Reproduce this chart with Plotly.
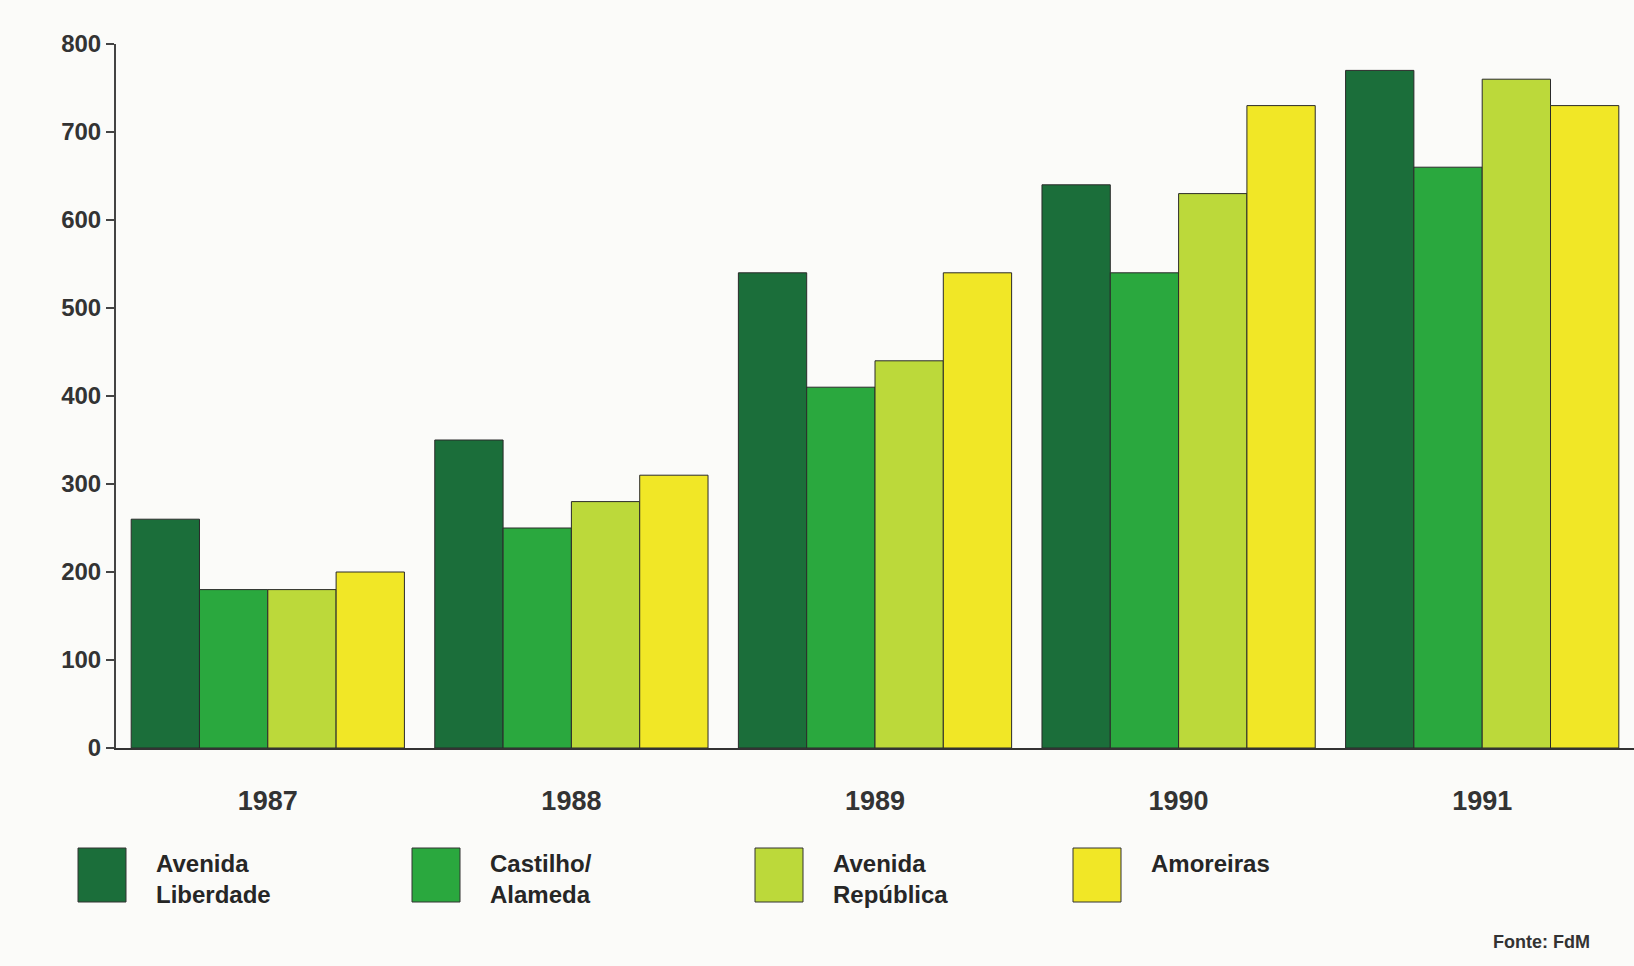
import plotly.graph_objects as go

years = ["1987", "1988", "1989", "1990", "1991"]
series_names = ["Avenida<br>Liberdade", "Castilho/<br>Alameda", "Avenida<br>República", "Amoreiras"]
liberdade = [260, 350, 540, 640, 770]
castilho = [180, 250, 410, 540, 660]
republica = [180, 280, 440, 630, 760]
amoreiras = [200, 310, 540, 730, 730]
y_ticks = [0, 100, 200, 300, 400, 500, 600, 700, 800]
source_text = "Fonte: FdM"

colors = ["#1b6e3a", "#2aa83e", "#bcd93a", "#f1e726"]
values = [liberdade, castilho, republica, amoreiras]

FONT = "Liberation Sans Narrow, Arial Narrow, Liberation Sans, Arial"

fig = go.Figure()
for name, vals, col in zip(series_names, values, colors):
    fig.add_trace(go.Bar(
        x=years, y=vals, name=name.replace("<br>", " "),
        marker=dict(color=col, line=dict(color="#2a2a2a", width=1)),
        showlegend=False,
    ))

W, H = 1634, 966
ml, mr, mt, mb = 116, 0, 44, 218
fig.update_layout(
    width=W, height=H,
    margin=dict(l=ml, r=mr, t=mt, b=mb),
    paper_bgcolor="#fbfbf9", plot_bgcolor="#fbfbf9",
    barmode="group", bargap=0.1, bargroupgap=0.0,
    font=dict(family=FONT, color="#222222"),
)
fig.update_xaxes(
    type="category", range=[-0.5, 4.5],
    showgrid=False, showline=True, linecolor="#333333", linewidth=2,
    ticks="", tickfont=dict(size=27, family=FONT, color="#333333", weight="bold"),
    ticklabelstandoff=28,
)
fig.update_yaxes(
    range=[0, 800], tickvals=y_ticks, ticktext=[str(v) for v in y_ticks],
    showgrid=False, zeroline=False, showline=True, linecolor="#444444", linewidth=2,
    ticks="outside", ticklen=8, tickwidth=2, tickcolor="#444444",
    tickfont=dict(size=24, family=FONT, color="#333333", weight="bold"),
)

# legend drawn as swatches + labels
plot_w = W - ml - mr
plot_h = H - mt - mb
leg_x_px = [78, 412, 755, 1073]
for i, (name, col) in enumerate(zip(series_names, colors)):
    x0 = (leg_x_px[i] - ml) / plot_w
    x1 = (leg_x_px[i] + 48 - ml) / plot_w
    y0 = (H - mb - 848) / plot_h
    y1 = (H - mb - 902) / plot_h
    fig.add_shape(type="rect", xref="paper", yref="paper", x0=x0, x1=x1, y0=y1, y1=y0,
                  fillcolor=col, line=dict(color="#333333", width=1))
    fig.add_annotation(xref="paper", yref="paper",
                       x=(leg_x_px[i] + 76 - ml) / plot_w, y=(H - mb - 848) / plot_h,
                       xanchor="left", yanchor="top", align="left",
                       text=name, showarrow=False,
                       font=dict(size=24, family=FONT, color="#262626", weight="bold"))

fig.add_annotation(xref="paper", yref="paper",
                   x=(1592 - ml) / plot_w, y=(H - mb - 930) / plot_h,
                   xanchor="right", yanchor="top", text=source_text, showarrow=False,
                   font=dict(size=18, family=FONT, color="#333333", weight="bold"))

fig.write_html("out.html")
